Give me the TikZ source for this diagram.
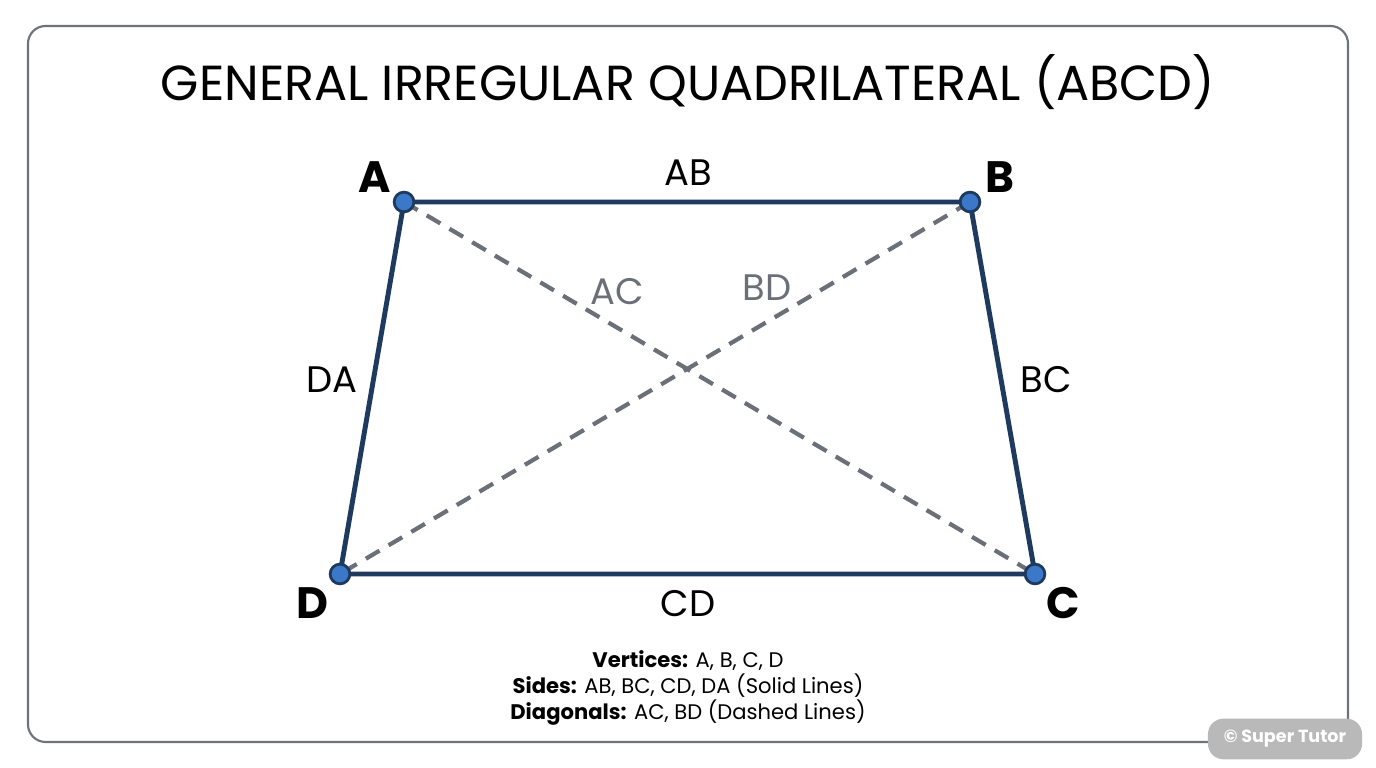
\documentclass[tikz,border=0pt]{standalone}
\usepackage{fontspec}
\setmainfont{Poppins}
\usetikzlibrary{positioning}
\definecolor{sideblue}{HTML}{1F3A5F}
\definecolor{dotblue}{HTML}{3B78C8}
\definecolor{diaggray}{HTML}{6B7078}
\definecolor{framegray}{HTML}{6E737A}
\tikzset{
  vertex/.style={circle,draw=sideblue,fill=dotblue,line width=0.8pt,inner sep=0pt,minimum size=5.6pt},
  side/.style={draw=sideblue,line width=1.4pt},
  diag/.style={draw=diaggray,line width=1.2pt,dash pattern=on 4.5pt off 3pt},
  vlabel/.style={font=\fontsize{12.5}{14}\selectfont\bfseries},
  slabel/.style={font=\fontsize{10.5}{12}\selectfont},
  dlabel/.style={font=\fontsize{10.5}{12}\selectfont,text=diaggray}
}
\begin{document}
\begin{tikzpicture}[x=0.01cm,y=-0.01cm]
    \useasboundingbox (0,0) rectangle (1376,768);
    % Frame and title
    \draw [framegray,line width=0.6pt,rounded corners=5pt] (28,26) rectangle (1348,742);
    \node [font=\fontsize{14}{16}\selectfont] (title) at (688,82) {GENERAL IRREGULAR QUADRILATERAL (ABCD)};

    % Vertices
    \coordinate (A) at (404,202);
    \coordinate (B) at (970,202);
    \coordinate (C) at (1035,574);
    \coordinate (D) at (340,574);

    % Diagonals
    \draw [diag] (A) -- (C);
    \draw [diag] (B) -- (D);

    % Sides
    \draw [side] (A) -- (B) -- (C) -- (D) -- cycle;

    \foreach \v in {A,B,C,D}
        \node [vertex] (dot\v) at (\v) {};

    % Labels
    \node [vlabel] (labA) at (375,177) {A};
    \node [vlabel] (labB) at (1000,177) {B};
    \node [vlabel] (labC) at (1063,603) {C};
    \node [vlabel] (labD) at (312,603) {D};
    \node [slabel] (labAB) at (688,173) {AB};
    \node [slabel] (labBC) at (1046,380) {BC};
    \node [slabel] (labCD) at (688,604) {CD};
    \node [slabel] (labDA) at (332,380) {DA};
    \node [dlabel] (labAC) at (617,292) {AC};
    \node [dlabel] (labBD) at (767,288) {BD};

    % Legend
    \node [font=\fontsize{6}{7.4}\selectfont,align=center] (legend) at (688,688)
        {\textbf{Vertices:} A, B, C, D\\ \textbf{Sides:} AB, BC, CD, DA (Solid Lines)\\ \textbf{Diagonals:} AC, BD (Dashed Lines)};

    % Watermark
    \node [fill=gray!55,text=white,rounded corners=4.4pt,minimum width=1.54cm,minimum height=0.31cm,font=\fontsize{5}{6}\selectfont\bfseries] (mark) at (1285,739) {© Super Tutor};
\end{tikzpicture}
\end{document}
